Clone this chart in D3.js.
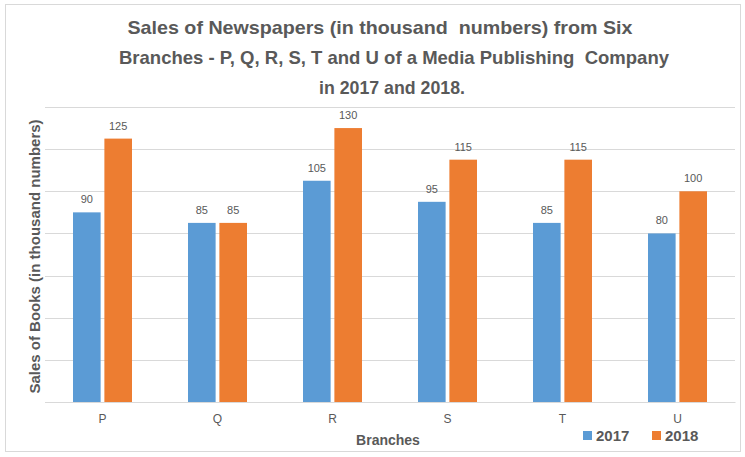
<!DOCTYPE html>
<html>
<head>
<meta charset="utf-8">
<script src="https://cdn.jsdelivr.net/npm/d3@7"></script>
<style>
  body { margin: 0; background: #fff; }
  text { font-family: "Liberation Sans", Arial, sans-serif; }
</style>
</head>
<body>
<div id="chart"></div>
<script>
  var branches = ['P', 'Q', 'R', 'S', 'T', 'U'];
  var years = ['2017', '2018'];
  var sales2017 = [90, 85, 105, 95, 85, 80];
  var sales2018 = [125, 85, 130, 115, 115, 100];
  var yTicks = [0, 20, 40, 60, 80, 100, 120, 140];
  var titleLines = [
    'Sales of Newspapers (in thousand  numbers) from Six',
    'Branches - P, Q, R, S, T and U of a Media Publishing  Company',
    'in 2017 and 2018.'
  ];
  var colors = ['#5b9bd5', '#ed7d31'];

  var width = 745, height = 457;
  var margin = {top: 107, right: 10, bottom: 55, left: 45};
  // centre and width of each title line as drawn in the original
  var titleX = [380, 394, 392],
    titleW = [505, 550, 146];

  var svg = d3.select('#chart')
    .append('svg')
    .attr('width', width)
    .attr('height', height);

  // outer chart border
  svg.append('rect')
    .attr('x', 5.5).attr('y', 4.5)
    .attr('width', 735).attr('height', 447)
    .attr('fill', 'none')
    .attr('stroke', '#d9d9d9');

  svg.append('g')
    .selectAll('text')
    .data(titleLines)
    .enter()
    .append('text')
    .attr('x', function(d, i) { return titleX[i]; })
    .attr('y', function(d, i) { return 34 + i * 30; })
    .attr('text-anchor', 'middle')
    .attr('font-size', 18.5)
    .attr('font-weight', 'bold')
    .attr('fill', '#595959')
    .attr('textLength', function(d, i) { return titleW[i]; })
    .attr('lengthAdjust', 'spacingAndGlyphs')
    .style('white-space', 'pre')
    .text(function(d) { return d; });

  var w = width - margin.left - margin.right,
    h = height - margin.top - margin.bottom;
  var g = svg.append('g')
    .attr('transform', 'translate(' + margin.left + ',' + margin.top + ')');

  var xScale = d3.scaleBand()
    .domain(branches)
    .range([0, w]);
  var xInner = d3.scaleBand()
    .domain(years)
    .range([0, 59])
    .paddingInner(0.12);
  var yScale = d3.scaleLinear()
    .domain([0, 140])
    .range([h, 0]);

  g.selectAll('.grid')
    .data(yTicks)
    .enter()
    .append('line')
    .attr('class', 'grid')
    .attr('x1', 0)
    .attr('x2', w)
    .attr('y1', function(d) { return Math.round(yScale(d)) + 0.5; })
    .attr('y2', function(d) { return Math.round(yScale(d)) + 0.5; })
    .attr('stroke', '#d9d9d9');

  var xAxis = g.append('g')
    .attr('transform', 'translate(0,' + h + ')')
    .call(d3.axisBottom(xScale).tickSize(0).tickPadding(12));
  xAxis.select('.domain').attr('stroke', '#d9d9d9');
  xAxis.selectAll('text')
    .attr('font-size', 12)
    .attr('fill', '#595959')
    .style('font-family', '"Liberation Sans", Arial, sans-serif');

  var series = [sales2017, sales2018];
  var groups = g.selectAll('.branch')
    .data(branches)
    .enter()
    .append('g')
    .attr('class', 'branch')
    .attr('transform', function(d) {
      return 'translate(' + (xScale(d) + (xScale.bandwidth() - 59) / 2) + ',0)';
    });

  years.forEach(function(yr, k) {
    groups.append('rect')
      .attr('x', xInner(yr))
      .attr('y', function(d, i) { return yScale(series[k][i]); })
      .attr('width', xInner.bandwidth())
      .attr('height', function(d, i) { return h - yScale(series[k][i]); })
      .attr('fill', colors[k]);
    groups.append('text')
      .attr('x', xInner(yr) + xInner.bandwidth() / 2)
      .attr('y', function(d, i) { return yScale(series[k][i]) - 9; })
      .attr('text-anchor', 'middle')
      .attr('font-size', 11)
      .attr('fill', '#595959')
      .text(function(d, i) { return series[k][i]; });
  });

  svg.append('text')
    .attr('transform', 'translate(40,' + (margin.top + h / 2 + 2) + ') rotate(-90)')
    .attr('text-anchor', 'middle')
    .attr('font-size', 15)
    .attr('font-weight', 'bold')
    .attr('fill', '#595959')
    .text('Sales of Books (in thousand numbers)');

  svg.append('text')
    .attr('x', 388)
    .attr('y', 445)
    .attr('text-anchor', 'middle')
    .attr('font-size', 14)
    .attr('font-weight', 'bold')
    .attr('fill', '#595959')
    .text('Branches');

  var legend = svg.selectAll('.legend')
    .data(years)
    .enter()
    .append('g')
    .attr('class', 'legend')
    .attr('transform', function(d, i) { return 'translate(' + (583 + i * 69) + ',431)'; });
  legend.append('rect')
    .attr('width', 9).attr('height', 9)
    .attr('fill', function(d, i) { return colors[i]; });
  legend.append('text')
    .attr('x', 13)
    .attr('y', 10)
    .attr('font-size', 15)
    .attr('font-weight', 'bold')
    .attr('fill', '#595959')
    .text(function(d) { return d; });
</script>
</body>
</html>
